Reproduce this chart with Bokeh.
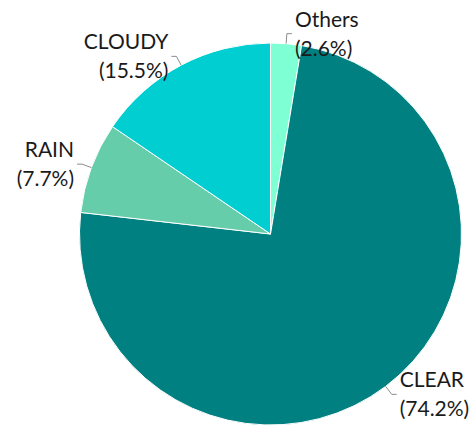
import math
from bokeh.plotting import figure
from bokeh.models import Range1d, ColumnDataSource
from bokeh.core.properties import value
from bokeh.embed import file_html
from bokeh.resources import INLINE

# Data (order as drawn clockwise from 12 o'clock)
categories = ["Others", "CLEAR", "RAIN", "CLOUDY"]
percents = [2.6, 74.2, 7.7, 15.5]
colors = ["#7FFFD4", "#008080", "#66CDAA", "#00CED1"]

W, H = 476, 425
p = figure(width=W, height=H, output_backend="svg", toolbar_location=None,
           x_range=Range1d(0, W), y_range=Range1d(425 - H, 425),
           min_border=0, outline_line_color=None)
p.axis.visible = False
p.grid.visible = False
p.background_fill_color = "white"

cx, cy, r = 270, 425 - 233.5, 191

total = sum(percents)
starts, ends, mids = [], [], []
cum = 0.0
for v in percents:
    f0 = cum / total
    cum += v
    f1 = cum / total
    starts.append(math.pi / 2 - 2 * math.pi * f0)
    ends.append(math.pi / 2 - 2 * math.pi * f1)
    mids.append(math.pi / 2 - 2 * math.pi * (f0 + f1) / 2)

src = ColumnDataSource(dict(start=starts, end=ends, color=colors))
p.wedge(x=cx, y=cy, radius=r, start_angle="start", end_angle="end",
        direction="clock", fill_color="color", line_color="white",
        line_width=1, source=src)

# Leader lines and labels
lx, ly = [], []
t1x, t1y, t1 = [], [], []
t2x, t2y, t2 = [], [], []
aligns = []
gap = 29
for cat, v, a in zip(categories, percents, mids):
    ex, ey = cx + r * math.cos(a), cy + r * math.sin(a)
    bx, by = cx + (r + 10) * math.cos(a), cy + (r + 10) * math.sin(a)
    side = 1 if math.cos(a) > 0 else -1
    hx = bx + 5 * side
    lx.append([ex, bx, hx])
    ly.append([ey, by, by])
    tx = hx + 3 * side
    al = "left" if side > 0 else "right"
    aligns.append(al)
    t1x.append(tx); t1y.append(by + gap / 2 + 1); t1.append(cat)
    t2x.append(tx); t2y.append(by - gap / 2 + 1); t2.append(f"({v}%)")

p.multi_line(xs=lx, ys=ly, line_color="#8c8c8c", line_width=1)

lab = ColumnDataSource(dict(x1=t1x, y1=t1y, s1=t1, x2=t2x, y2=t2y, s2=t2, al=aligns))
for xk, yk, sk in (("x1", "y1", "s1"), ("x2", "y2", "s2")):
    p.text(x=xk, y=yk, text=sk, source=lab, text_align="al",
           text_baseline="middle", text_font=value("Lato"),
           text_font_size="21px", text_color="#1a1a1a")

open("out.html", "w").write(file_html(p, INLINE))
